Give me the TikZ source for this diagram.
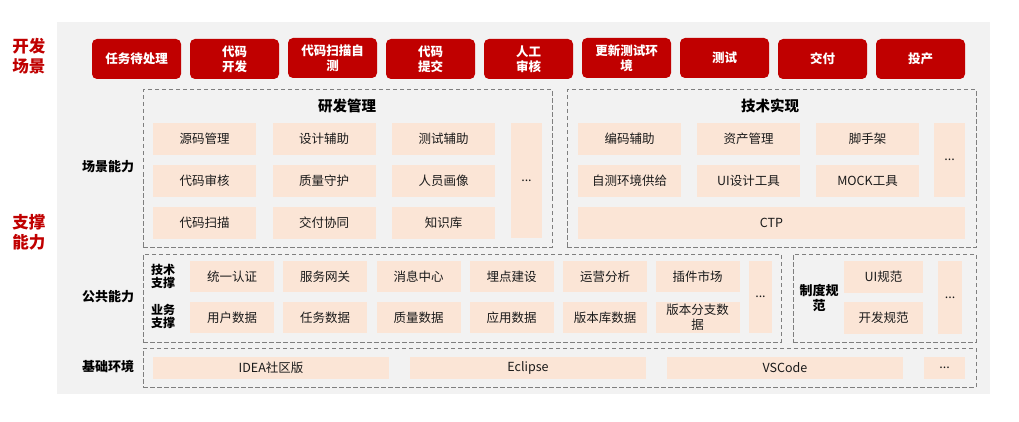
\documentclass[tikz,border=0pt]{standalone}
\usepackage{fontspec}
\setmainfont{Noto Sans CJK SC}
\definecolor{sceneRed}{HTML}{C00000}
\definecolor{cellPeach}{HTML}{FBE5D6}
\definecolor{dashGray}{HTML}{7F7F7F}
\definecolor{bgGray}{HTML}{F2F2F2}
\definecolor{cellText}{HTML}{1A1A1A}

\tikzstyle{scene} = [fill=sceneRed, rounded corners=5pt, text=white, align=center, inner sep=0pt,
    minimum width=89pt, minimum height=40pt, font=\bfseries\fontsize{12.5}{15}\selectfont]
\tikzstyle{cell} = [fill=cellPeach, text=cellText, align=center, inner sep=0pt,
    minimum width=103pt, minimum height=32pt, font=\fontsize{12.5}{15}\selectfont]
\tikzstyle{pub} = [cell, minimum width=84pt, minimum height=31pt]
\tikzstyle{base} = [cell, minimum width=236pt, minimum height=22pt]
\tikzstyle{group} = [draw=dashGray, line width=1pt, dash pattern=on 4.5pt off 2.5pt, inner sep=0pt]
\tikzstyle{layer} = [text=black, align=center, font=\bfseries\fontsize{13}{15}\selectfont]
\tikzstyle{sublayer} = [text=black, align=center, font=\bfseries\fontsize{12}{13}\selectfont]
\tikzstyle{title} = [text=black, font=\bfseries\fontsize{14.5}{16}\selectfont]
\tikzstyle{side} = [text=sceneRed, align=center, font=\bfseries\fontsize{16.5}{20}\selectfont]

\begin{document}
\begin{tikzpicture}[x=1pt, y=-1pt]
\useasboundingbox (0,0) rectangle (1019,422);
\fill[bgGray] (57,22) rectangle (990,394);
%side labels
\node[side] (devscene) at (29,56) {开发\\场景};
\node[side] (support) at (29,232) {支撑\\能力};
%begin scenes
\node[scene] (s1) at (136.5,59) {任务待处理};
\node[scene] (s2) at (234.5,59) {代码\\开发};
\node[scene] (s3) at (332.5,58) {代码扫描自\\测};
\node[scene] (s4) at (430.5,59) {代码\\提交};
\node[scene] (s5) at (528.5,59) {人工\\审核};
\node[scene] (s6) at (626.5,58) {更新测试环\\境};
\node[scene] (s7) at (724.5,58) {测试};
\node[scene] (s8) at (822.5,59) {交付};
\node[scene] (s9) at (920.5,59) {投产};
%end scenes
%begin 场景能力
\node[layer] (scenecap) at (108,167) {场景能力};
%研发管理
\node[group, minimum width=409pt, minimum height=157pt] (rdmgmt) at (347.5,168.5) {};
\node[title] (rdtitle) at (347,106) {研发管理};
\node[cell] (src) at (204.5,139) {源码管理};
\node[cell] (design) at (324,139) {设计辅助};
\node[cell] (testaid) at (443.5,139) {测试辅助};
\node[cell] (review) at (204.5,181) {代码审核};
\node[cell] (quality) at (324,181) {质量守护};
\node[cell] (persona) at (443.5,181) {人员画像};
\node[cell] (scan) at (204.5,223) {代码扫描};
\node[cell] (deliver) at (324,223) {交付协同};
\node[cell] (kb) at (443.5,223) {知识库};
\node[cell, minimum width=31pt, minimum height=115pt] (rdmore) at (526.5,180.5) {...};
%技术实现
\node[group, minimum width=409pt, minimum height=157pt] (techimpl) at (771.5,168.5) {};
\node[title] (techtitle) at (770,106) {技术实现};
\node[cell] (codeaid) at (629.5,139) {编码辅助};
\node[cell] (asset) at (748.5,139) {资产管理};
\node[cell] (scaffold) at (867.5,139) {脚手架};
\node[cell] (selfenv) at (629.5,181) {自测环境供给};
\node[cell] (uitool) at (748.5,181) {UI设计工具};
\node[cell] (mock) at (867.5,181) {MOCK工具};
\node[cell, minimum width=31pt, minimum height=74pt] (techmore) at (949.5,160) {...};
\node[cell, minimum width=387pt] (ctp) at (771.5,223) {CTP};
%end 场景能力
%begin 公共能力
\node[layer] (pubcap) at (108,297) {公共能力};
\node[group, minimum width=638pt, minimum height=88pt] (pubbox) at (462,298) {};
\node[sublayer] (techsup) at (163,276) {技术\\支撑};
\node[sublayer] (bizsup) at (163,316) {业务\\支撑};
\node[pub] (auth) at (232,276.5) {统一认证};
\node[pub] (gateway) at (325,276.5) {服务网关};
\node[pub] (msg) at (418.5,276.5) {消息中心};
\node[pub] (track) at (511.5,276.5) {埋点建设};
\node[pub] (ops) at (605,276.5) {运营分析};
\node[pub] (plugin) at (697.5,276.5) {插件市场};
\node[pub] (userdata) at (232,317.5) {用户数据};
\node[pub] (taskdata) at (325,317.5) {任务数据};
\node[pub] (qualdata) at (418.5,317.5) {质量数据};
\node[pub] (appdata) at (511.5,317.5) {应用数据};
\node[pub] (repodata) at (605,317.5) {版本库数据};
\node[pub] (branchdata) at (697.5,317.5) {版本分支数\\据};
\node[pub, minimum width=23pt, minimum height=72pt] (pubmore) at (760.5,297) {...};
%制度规范
\node[group, minimum width=183pt, minimum height=88pt] (rulebox) at (884.5,298) {};
\node[layer] (rules) at (819,298) {制度规\\范};
\node[pub, minimum width=79pt, minimum height=32pt] (uirule) at (883.5,277) {UI规范};
\node[pub, minimum width=79pt, minimum height=32pt] (devrule) at (883.5,318) {开发规范};
\node[pub, minimum width=24pt, minimum height=73pt] (rulemore) at (950,297.5) {...};
%end 公共能力
%begin 基础环境
\node[layer] (basecap) at (108,367) {基础环境};
\node[group, minimum width=833pt, minimum height=39pt] (basebox) at (559.5,367.5) {};
\node[base] (idea) at (271,368) {IDEA社区版};
\node[base] (eclipse) at (528,368) {Eclipse};
\node[base] (vscode) at (785,368) {VSCode};
\node[base, minimum width=41pt] (basemore) at (944.5,368) {...};
%end 基础环境
\end{tikzpicture}
\end{document}
